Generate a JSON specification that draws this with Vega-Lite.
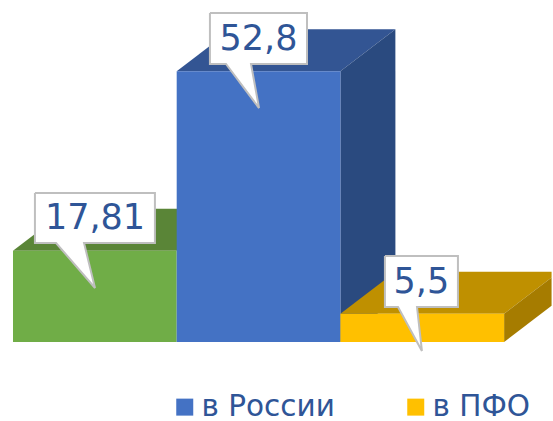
{
"$schema":"https://vega.github.io/schema/vega-lite/v6.json",
"width":553,"height":421,"padding":0,
"autosize":{"type":"fit","contains":"padding"},
"background":"white",
"config":{"view":{"stroke":null}},
"layer":[
{"data":{"values":[
{"face":"зелёный верх","x":0,"y":17.81,"y2":17.81},{"face":"зелёный верх","x":0.336,"y":26,"y2":17.81},{"face":"зелёный верх","x":1,"y":26,"y2":17.81},{"face":"зелёный верх","x":1.336,"y":26,"y2":26},
{"face":"зелёный","x":0,"y":17.81,"y2":0},{"face":"зелёный","x":1,"y":17.81,"y2":0},
{"face":"синий верх","x":1,"y":52.8,"y2":52.8},{"face":"синий верх","x":1.336,"y":60.99,"y2":52.8},{"face":"синий верх","x":2,"y":60.99,"y2":52.8},{"face":"синий верх","x":2.336,"y":60.99,"y2":60.99},
{"face":"синий бок","x":2,"y":52.8,"y2":0},{"face":"синий бок","x":2.336,"y":60.99,"y2":8.19},
{"face":"в России","x":1,"y":52.8,"y2":0},{"face":"в России","x":2,"y":52.8,"y2":0},
{"face":"жёлтый верх","x":2,"y":5.5,"y2":5.5},{"face":"жёлтый верх","x":2.336,"y":13.69,"y2":5.5},{"face":"жёлтый верх","x":3,"y":13.69,"y2":5.5},{"face":"жёлтый верх","x":3.29,"y":13.69,"y2":12.57},
{"face":"жёлтый бок","x":3,"y":5.5,"y2":0},{"face":"жёлтый бок","x":3.29,"y":12.57,"y2":7.07},
{"face":"в ПФО","x":2,"y":5.5,"y2":0},{"face":"в ПФО","x":3,"y":5.5,"y2":0}
]},
"mark":{"type":"area","opacity":1},
"encoding":{
"x":{"field":"x","type":"quantitative","scale":{"domain":[-0.0794,3.2987],"nice":false,"zero":false},"axis":null},
"y":{"field":"y","type":"quantitative","stack":null,"scale":{"domain":[-15.4,66.67],"nice":false,"zero":false},"axis":null},
"y2":{"field":"y2"},
"color":{"field":"face","type":"nominal","sort":null,
"scale":{"domain":["зелёный верх","зелёный","синий верх","синий бок","в России","жёлтый верх","жёлтый бок","в ПФО"],"range":["#5A8537","#70AD47","#335593","#2A4A7F","#4472C4","#BF9000","#A67C00","#FFC000"]},
"legend":{"values":["в России","в ПФО"],"title":null,"orient":"none","legendX":170,"legendY":392,"direction":"horizontal","columns":2,"symbolType":"square","symbolSize":289,"symbolStrokeWidth":0,"labelFontSize":29.5,"labelFont":"DejaVu Sans","labelColor":"#2F5597","labelOffset":2,"columnPadding":66,"padding":0,"labelLimit":300}}
}},
{"data":{"values":[
{"id":"a","o":1,"x":0.134,"y":29.04},{"id":"a","o":2,"x":0.867,"y":29.04},{"id":"a","o":3,"x":0.867,"y":19.3},{"id":"a","o":4,"x":0.434,"y":19.3},{"id":"a","o":5,"x":0.501,"y":10.53},{"id":"a","o":6,"x":0.263,"y":19.3},{"id":"a","o":7,"x":0.134,"y":19.3},{"id":"a","o":8,"x":0.134,"y":29.04},
{"id":"b","o":1,"x":1.203,"y":64.13},{"id":"b","o":2,"x":1.796,"y":64.13},{"id":"b","o":3,"x":1.796,"y":54.19},{"id":"b","o":4,"x":1.454,"y":54.19},{"id":"b","o":5,"x":1.503,"y":45.61},{"id":"b","o":6,"x":1.301,"y":54.19},{"id":"b","o":7,"x":1.203,"y":54.19},{"id":"b","o":8,"x":1.203,"y":64.13},
{"id":"c","o":1,"x":2.272,"y":16.76},{"id":"c","o":2,"x":2.718,"y":16.76},{"id":"c","o":3,"x":2.718,"y":6.82},{"id":"c","o":4,"x":2.468,"y":6.82},{"id":"c","o":5,"x":2.498,"y":-1.75},{"id":"c","o":6,"x":2.352,"y":6.82},{"id":"c","o":7,"x":2.272,"y":6.82},{"id":"c","o":8,"x":2.272,"y":16.76}
]},
"mark":{"type":"line","fill":"#FFFFFF","stroke":"#BFBFBF","strokeWidth":2,"strokeJoin":"miter"},
"encoding":{
"x":{"field":"x","type":"quantitative","axis":null},
"y":{"field":"y","type":"quantitative","axis":null},
"detail":{"field":"id"},
"order":{"field":"o"}
}},
{"data":{"values":[
{"label":"17,81","x":0.501,"y":24.17},
{"label":"52,8","x":1.5,"y":59.16},
{"label":"5,5","x":2.495,"y":11.79}
]},
"mark":{"type":"text","font":"DejaVu Sans","fontSize":35,"color":"#2F5597","align":"center","baseline":"middle"},
"encoding":{
"x":{"field":"x","type":"quantitative","axis":null},
"y":{"field":"y","type":"quantitative","axis":null},
"text":{"field":"label"}
}}
]
}
